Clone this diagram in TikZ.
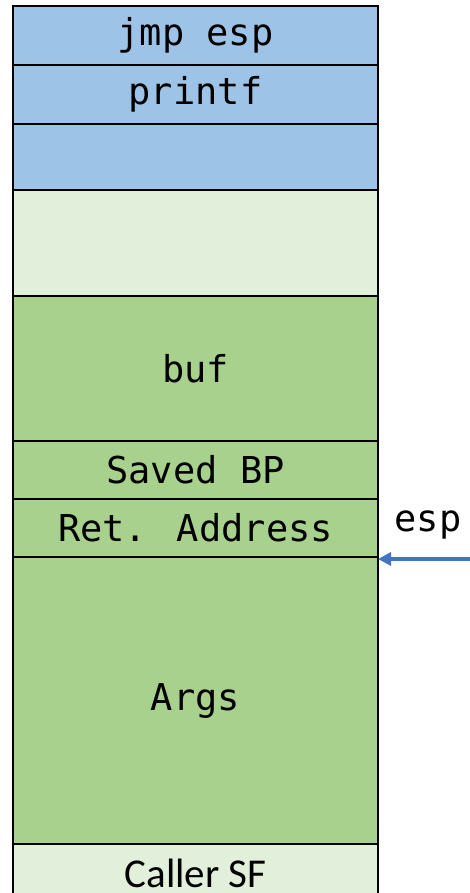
\documentclass[tikz,border=0pt]{standalone}
\usepackage{fontspec}
\setmainfont{Carlito}
\newfontfamily\codefont{DejaVu Sans Mono}
\usetikzlibrary{arrows.meta}
\definecolor{slotblue}{HTML}{9DC3E6}
\definecolor{slotpale}{HTML}{E2EFDA}
\definecolor{slotgreen}{HTML}{A9D18E}
\definecolor{ptrblue}{HTML}{4472C4}
\begin{document}
\begin{tikzpicture}[x=1pt,y=-1pt,
  slot/.style={draw=black, line width=2pt, minimum width=365pt, inner sep=0pt,
    anchor=north west, font=\codefont\fontsize{37}{40}\selectfont},
  ptr/.style={draw=ptrblue, line width=3.2pt, -{Triangle[length=13pt,width=13pt]}}]
\useasboundingbox (0,0) rectangle (470,893);
\clip (0,0) rectangle (470,893);
% stack slots, top to bottom
\node[slot, fill=slotblue, minimum height=59pt] (jmp) at (12,5) {jmp esp};
\node[slot, fill=slotblue, minimum height=59pt] (printf) at (12,64) {printf};
\node[slot, fill=slotblue, minimum height=66pt] (blank) at (12,123) {};
\node[slot, fill=slotpale, minimum height=106pt] (free) at (12,189) {};
\node[slot, fill=slotgreen, minimum height=145pt] (buf) at (12,295) {buf};
\node[slot, fill=slotgreen, minimum height=58pt] (bp) at (12,440) {Saved BP};
\node[slot, fill=slotgreen, minimum height=58pt] (ret) at (12,498) {Ret. Address};
\node[slot, fill=slotgreen, minimum height=287pt] (args) at (12,556) {Args};
\node[slot, fill=slotpale, minimum height=58pt, font=\fontsize{41}{44}\selectfont] (caller) at (12,843) {Caller SF};
% stack pointer
\node[font=\codefont\fontsize{37}{40}\selectfont] (esp) at (428,525) {esp};
\coordinate (esptail) at (472,559);
\draw[ptr] (esptail) -- (378,559);
\end{tikzpicture}
\end{document}
